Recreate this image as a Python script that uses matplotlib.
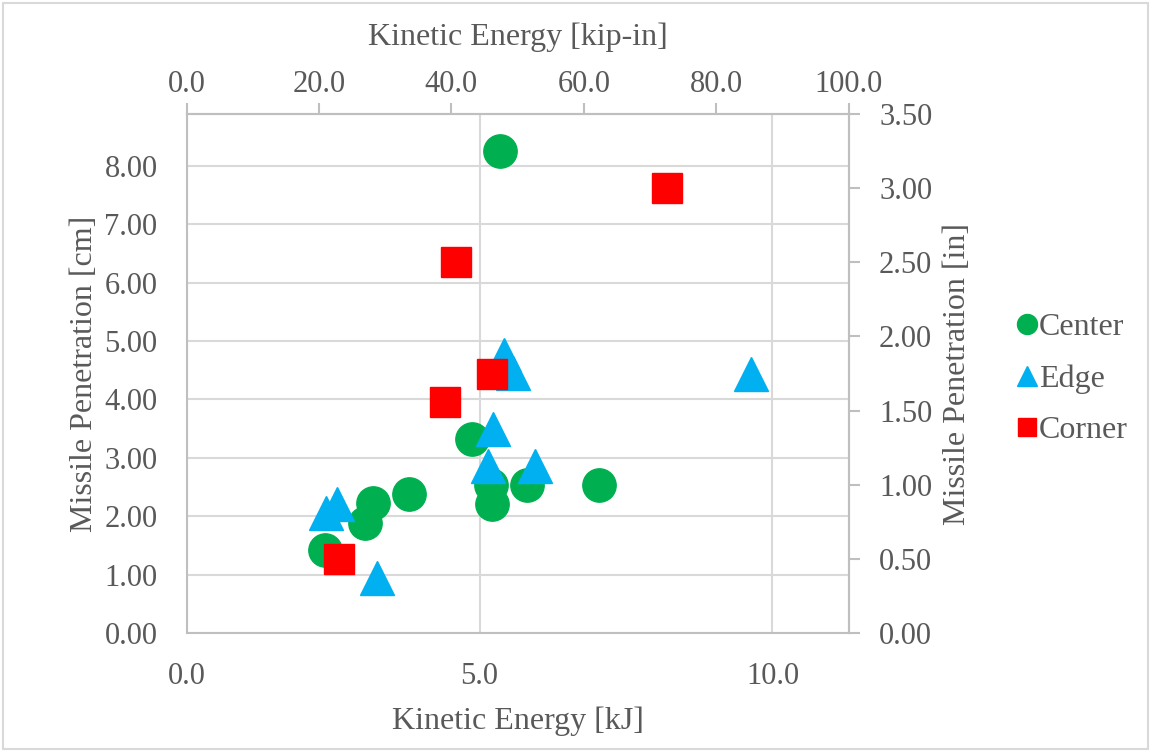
import matplotlib.pyplot as plt
from matplotlib.patches import Rectangle
from matplotlib.ticker import FormatStrFormatter

# energy [kJ] and penetration [cm]
center_x = [2.36, 3.04, 3.18, 3.79, 4.87, 5.19, 5.21, 5.81, 7.04, 5.35]
center_y = [1.42, 1.88, 2.23, 2.38, 3.32, 2.54, 2.21, 2.54, 2.54, 8.26]

edge_x = [2.38, 2.57, 3.25, 5.23, 5.14, 5.95, 5.42, 5.57, 9.63]
edge_y = [2.06, 2.21, 0.94, 3.49, 2.86, 2.86, 4.76, 4.45, 4.44]

corner_x = [2.60, 8.20, 4.60, 5.21, 4.41]
corner_y = [1.27, 7.62, 6.36, 4.44, 3.96]

KJ_PER_KIPIN = 0.112985
CM_PER_IN = 2.54

txt = '#595959'
plt.rcParams['font.family'] = ['Liberation Serif', 'DejaVu Serif']
plt.rcParams['font.size'] = 22

fig = plt.figure(figsize=(11.51, 7.52), dpi=100)
ax = fig.add_axes([0.1622, 0.1582, 0.7372 - 0.1622, 0.8484 - 0.1582])

ax.plot(center_x, center_y, 'o', color='#00B050', markersize=24, label='Center', zorder=3)
ax.plot(edge_x, edge_y, '^', color='#00B0F0', markersize=24, label='Edge', zorder=3)
ax.plot(corner_x, corner_y, 's', color='#FF0000', markersize=22, label='Corner', zorder=3)

ax.set_xlim(0, 100 * KJ_PER_KIPIN)
ax.set_ylim(0, 3.5 * CM_PER_IN)
ax.set_xticks([0, 5, 10])
ax.set_yticks(range(0, 9))
ax.xaxis.set_major_formatter(FormatStrFormatter('%.1f'))
ax.yaxis.set_major_formatter(FormatStrFormatter('%.2f'))
ax.grid(True, color='#d9d9d9', linewidth=1.5)
ax.set_axisbelow(True)
ax.tick_params(axis='both', length=0, colors=txt)
ax.tick_params(axis='x', pad=21)
ax.tick_params(axis='y', pad=21)
for s in ax.spines.values():
    s.set_color('#bfbfbf')
    s.set_linewidth(1.5)

ax.set_xlabel('Kinetic Energy [kJ]', color=txt, fontsize=23)
ax.set_ylabel('Missile Penetration [cm]', color=txt, fontsize=23)
ax.xaxis.set_label_coords(0.5, -0.142)
ax.yaxis.set_label_coords(-0.133, 0.5)

top = ax.secondary_xaxis('top', functions=(lambda x: x / KJ_PER_KIPIN, lambda x: x * KJ_PER_KIPIN))
top.set_xticks([0, 20, 40, 60, 80, 100])
top.xaxis.set_major_formatter(FormatStrFormatter('%.1f'))
top.tick_params(length=8, width=1.5, color='#bfbfbf', labelcolor=txt, pad=3)
top.spines['top'].set_color('#bfbfbf')
top.spines['top'].set_linewidth(1.5)
top.set_xlabel('Kinetic Energy [kip-in]', color=txt, fontsize=23, labelpad=18)

right = ax.secondary_yaxis('right', functions=(lambda y: y / CM_PER_IN, lambda y: y * CM_PER_IN))
right.set_yticks([0, 0.5, 1, 1.5, 2, 2.5, 3, 3.5])
right.yaxis.set_major_formatter(FormatStrFormatter('%.2f'))
right.tick_params(length=8, width=1.5, color='#bfbfbf', labelcolor=txt, pad=14)
right.spines['right'].set_color('#bfbfbf')
right.spines['right'].set_linewidth(1.5)
right.set_ylabel('Missile Penetration [in]', color=txt, fontsize=23, labelpad=8)

leg = fig.legend(loc='center left', bbox_to_anchor=(0.872, 0.496), frameon=False,
                 markerscale=0.6, handlelength=0.45, handletextpad=0.15,
                 labelspacing=0.7, labelcolor=txt, fontsize=23, borderpad=0)

fig.patches.append(Rectangle((0.003, 0.004), 0.994, 0.992, transform=fig.transFigure,
                             fill=False, edgecolor='#d9d9d9', linewidth=1.5))

fig.savefig('out.png', dpi=100)
